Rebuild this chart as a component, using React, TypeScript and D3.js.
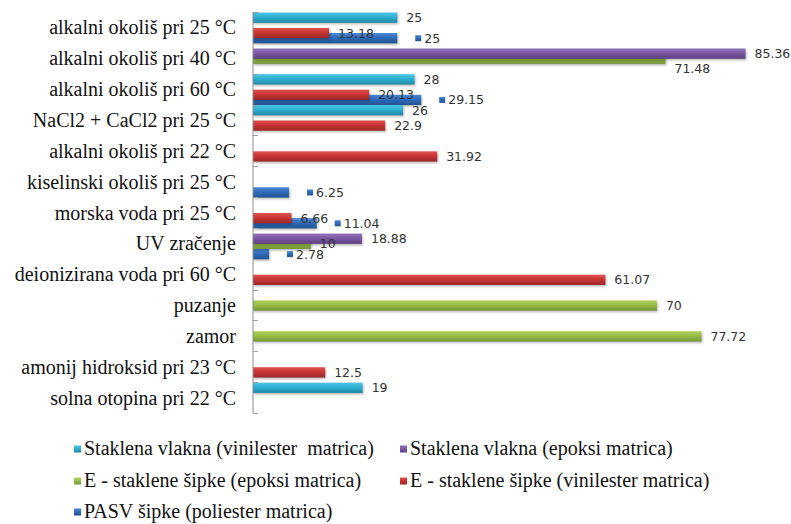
import React from "react";
import * as d3 from "d3";

const categories = [
  "alkalni okoliš pri 25 °C",
  "alkalni okoliš pri 40 °C",
  "alkalni okoliš pri 60 °C",
  "NaCl2 + CaCl2 pri 25 °C",
  "alkalni okoliš pri 22 °C",
  "kiselinski okoliš pri 25 °C",
  "morska voda pri 25 °C",
  "UV zračenje",
  "deionizirana voda pri 60 °C",
  "puzanje",
  "zamor",
  "amonij hidroksid pri 23 °C",
  "solna otopina pri 22 °C",
];

const seriesNames = [
  "Staklena vlakna (vinilester  matrica)",
  "Staklena vlakna (epoksi matrica)",
  "E - staklene šipke (epoksi matrica)",
  "E - staklene šipke (vinilester matrica)",
  "PASV šipke (poliester matrica)",
];

const staklenaVinilester: (number | null)[] = [25, null, 28, 26, null, null, null, null, null, null, null, null, 19];
const staklenaEpoksi: (number | null)[] = [null, 85.36, null, null, null, null, null, 18.88, null, null, null, null, null];
const eSipkeEpoksi: (number | null)[] = [null, 71.48, null, null, null, null, null, 10, null, 70, 77.72, null, null];
const eSipkeVinilester: (number | null)[] = [13.18, null, 20.13, 22.9, 31.92, null, 6.66, null, 61.07, null, null, 12.5, null];
const pasvSipke: (number | null)[] = [25, null, 29.15, null, null, 6.25, 11.04, 2.78, null, null, null, null, null];

const seriesValues = [staklenaVinilester, staklenaEpoksi, eSipkeEpoksi, eSipkeVinilester, pasvSipke];

const colors = [
  { top: "#4cc6e4", mid: "#2fb0d2", bot: "#1f87a6" },
  { top: "#9274b8", mid: "#7c58a4", bot: "#5c3f80" },
  { top: "#afd25a", mid: "#97bd45", bot: "#74963a" },
  { top: "#de5250", mid: "#c93434", bot: "#9c2626" },
  { top: "#4a86d2", mid: "#2f6cbc", bot: "#22538f" },
];

// label nudges (layout only): key "category-series" -> dy
const labelDy: Record<string, number> = { "1-2": 10 };

const W = 791;
const H = 524;
const axisX = 253;
const plotTop = 12;
const plotBottom = 413;

export default function App() {
  const x = d3.scaleLinear().domain([0, 90]).range([axisX, axisX + 90 * 5.77]);
  const y = d3.scaleBand<string>().domain(categories).range([plotTop, plotBottom]).paddingInner(0).paddingOuter(0);
  const band = y.bandwidth();
  const bh = band / 3;
  const step = bh / 2;
  const off = 0.5;

  const bars: JSX.Element[] = [];
  const labels: JSX.Element[] = [];
  for (let s = seriesValues.length - 1; s >= 0; s--) {
    seriesValues[s].forEach((v, i) => {
      if (v == null) return;
      const y0 = (y(categories[i]) as number) + off + s * step;
      const x1 = x(v);
      bars.push(
        <g key={`b${s}-${i}`}>
          <rect x={axisX + 1} y={y0 + 1.5} width={x1 - axisX} height={bh} fill="rgba(0,0,0,0.28)" filter="url(#sh)" />
          <rect x={axisX} y={y0} width={x1 - axisX} height={bh} fill={`url(#g${s})`} />
        </g>
      );
    });
  }
  seriesValues.forEach((vals, s) => {
    vals.forEach((v, i) => {
      if (v == null) return;
      const y0 = (y(categories[i]) as number) + off + s * step;
      const cy = y0 + bh / 2 + (labelDy[`${i}-${s}`] || 0);
      const x1 = x(v);
      const text = d3.format("")(v);
      if (s === 4) {
        labels.push(
          <g key={`l${s}-${i}`}>
            <rect x={x1 + 18} y={cy - 3} width={6} height={6} fill={`url(#g${s})`} />
            <text x={x1 + 27} y={cy + 4.5} fontFamily="DejaVu Sans" fontSize={12.5} fill="#333">
              {text}
            </text>
          </g>
        );
      } else {
        labels.push(
          <text key={`l${s}-${i}`} x={x1 + 9} y={cy + 4.5} fontFamily="DejaVu Sans" fontSize={12.5} fill="#333">
            {text}
          </text>
        );
      }
    });
  });

  const legendPos = [
    [74, 449],
    [400, 449],
    [74, 481],
    [400, 481],
    [74, 512],
  ];

  return (
    <svg width={W} height={H} style={{ position: "absolute", left: 0, top: 0, background: "#fff" }}>
      <defs>
        {colors.map((c, i) => (
          <linearGradient key={i} id={`g${i}`} x1="0" y1="0" x2="0" y2="1">
            <stop offset="0" stopColor={c.top} />
            <stop offset="0.45" stopColor={c.mid} />
            <stop offset="1" stopColor={c.bot} />
          </linearGradient>
        ))}
        <filter id="sh" x="-5%" y="-50%" width="110%" height="200%">
          <feGaussianBlur stdDeviation="1" />
        </filter>
      </defs>
      <rect width={W} height={H} fill="#fff" />
      {bars}
      <line x1={axisX} x2={axisX} y1={plotTop} y2={plotBottom} stroke="#8c8c8c" strokeWidth={1} />
      {d3.range(categories.length + 1).map((k) => {
        const ty = Math.round(plotTop + k * band) + 0.5;
        return <line key={`t${k}`} x1={axisX} x2={axisX + 5} y1={ty} y2={ty} stroke="#a0a0a0" strokeWidth={1} />;
      })}
      {categories.map((c) => (
        <text
          key={c}
          x={236}
          y={(y(c) as number) + band / 2 + 7}
          textAnchor="end"
          fontFamily="Liberation Serif"
          fontSize={20}
          fill="#111"
        >
          {c}
        </text>
      ))}
      {labels}
      {seriesNames.map((n, i) => (
        <g key={n}>
          <rect x={legendPos[i][0]} y={legendPos[i][1] - 3.5} width={7} height={7} fill={`url(#g${i})`} />
          <text
            x={legendPos[i][0] + 10}
            y={legendPos[i][1] + 6}
            fontFamily="Liberation Serif"
            fontSize={20}
            fill="#111"
            xmlSpace="preserve"
          >
            {n}
          </text>
        </g>
      ))}
    </svg>
  );
}
